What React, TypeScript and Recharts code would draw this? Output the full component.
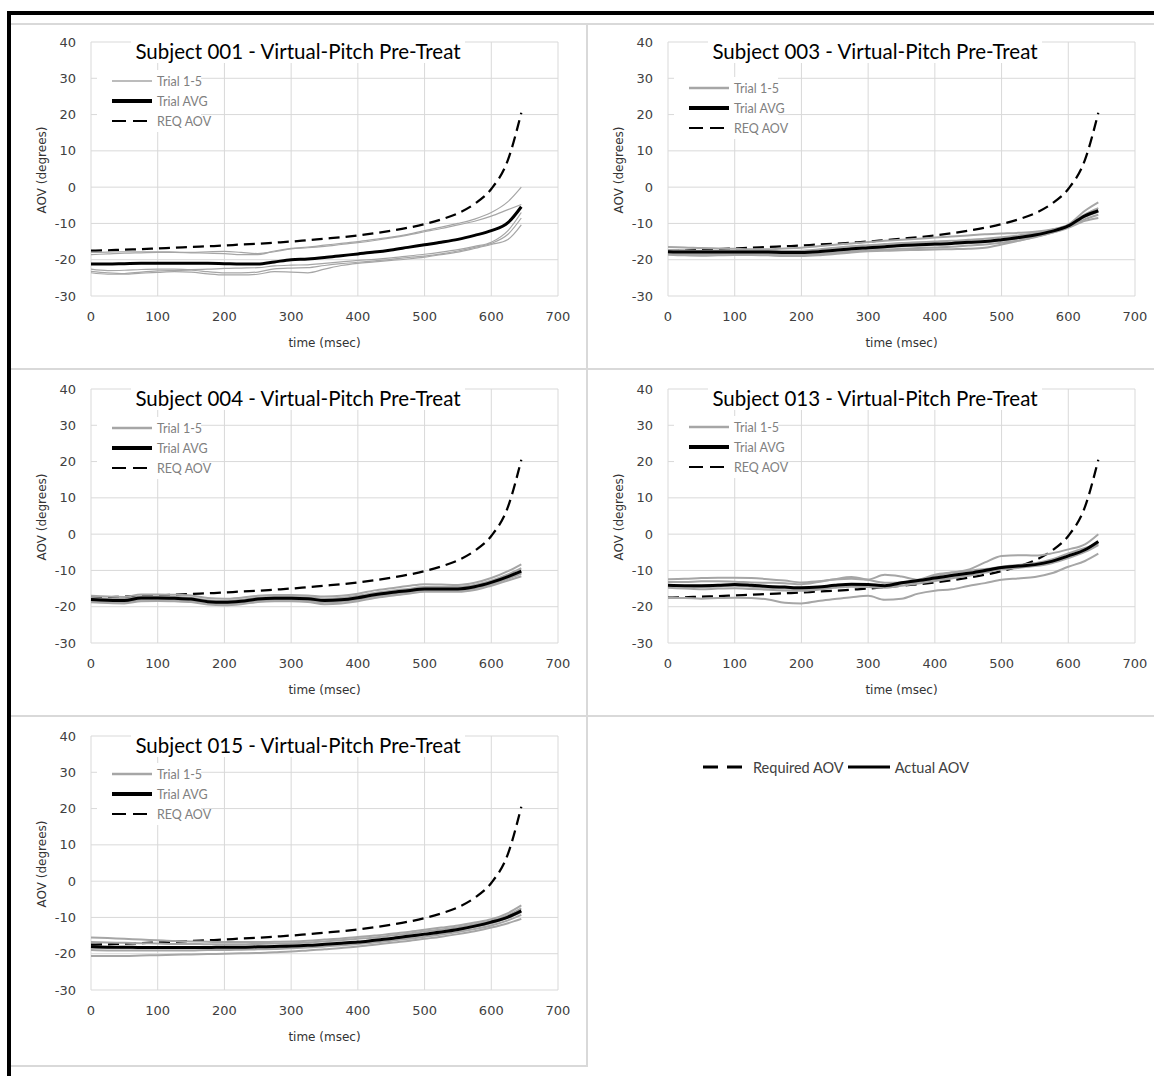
import { CartesianGrid, Line, LineChart, XAxis, YAxis } from 'recharts';

// sample times (msec)
const TIME = [0, 25, 50, 75, 100, 125, 150, 175, 200, 225, 250, 275, 300, 325, 350, 375, 400, 425, 450, 475, 500, 525, 550, 575, 600, 625, 645];

// required AOV, same curve in every panel
const REQ_AOV = [-17.5, -17.4, -17.2, -17.1, -16.9, -16.7, -16.5, -16.3, -16.1, -15.8, -15.6, -15.3, -15.0, -14.6, -14.2, -13.8, -13.3, -12.7, -12.0, -11.2, -10.2, -8.9, -7.2, -4.6, -0.5, 7.5, 20.5];

// Subject 001
const S001_AVG = [-21.2, -21.2, -21.1, -21.0, -21.0, -21.0, -21.0, -21.0, -21.1, -21.2, -21.2, -20.6, -20.0, -19.8, -19.4, -18.9, -18.4, -17.9, -17.3, -16.6, -15.9, -15.2, -14.4, -13.3, -12.0, -9.8, -5.4];
const S001_T1 = [-18.6, -18.4, -18.2, -18.1, -18.0, -18.0, -18.1, -18.2, -18.3, -18.6, -18.6, -17.6, -16.9, -16.5, -16.0, -15.5, -15.0, -14.4, -13.8, -13.0, -12.0, -11.0, -10.0, -8.8, -7.0, -4.0, 0.0];
const S001_T2 = [-18.0, -17.9, -17.8, -17.8, -17.8, -17.9, -18.0, -17.8, -17.7, -18.0, -18.3, -17.8, -17.0, -16.7, -16.3, -15.8, -15.3, -14.7, -14.0, -13.2, -12.3, -11.4, -10.4, -9.4, -8.0, -6.2, -4.8];
const S001_T3 = [-22.6, -23.0, -22.9, -22.7, -22.6, -22.6, -22.7, -22.6, -22.4, -22.3, -22.2, -21.7, -21.5, -21.4, -21.0, -20.6, -20.2, -19.9, -19.5, -19.0, -18.5, -17.9, -17.2, -16.3, -15.2, -12.0, -7.0];
const S001_T4 = [-23.2, -23.6, -23.8, -23.4, -23.1, -23.0, -22.9, -23.3, -23.6, -23.6, -23.4, -22.5, -22.3, -22.2, -21.6, -21.1, -20.7, -20.3, -19.9, -19.4, -19.0, -18.4, -17.6, -16.6, -15.5, -13.0, -8.5];
const S001_T5 = [-23.6, -24.0, -24.0, -23.7, -23.5, -23.3, -23.4, -23.9, -24.2, -24.2, -24.0, -23.3, -23.4, -23.6, -22.6, -21.6, -21.0, -20.6, -20.2, -19.8, -19.3, -18.6, -17.9, -16.9, -15.8, -14.4, -10.4];

// Subject 003
const S003_AVG = [-17.8, -17.9, -17.9, -17.9, -17.9, -17.9, -17.9, -18.0, -18.0, -17.8, -17.4, -17.0, -16.7, -16.4, -16.1, -15.9, -15.7, -15.5, -15.2, -15.0, -14.5, -13.9, -13.2, -12.2, -10.7, -7.9, -6.5];
const S003_T1 = [-16.5, -16.6, -16.8, -16.9, -17.0, -17.1, -17.1, -16.9, -16.7, -16.3, -15.9, -15.5, -15.1, -14.8, -14.5, -14.2, -13.9, -13.6, -13.3, -13.0, -12.8, -12.6, -12.3, -11.7, -10.3, -6.5, -4.2];
const S003_T2 = [-17.3, -17.4, -17.5, -17.5, -17.5, -17.6, -17.6, -17.6, -17.5, -17.2, -16.7, -16.3, -16.0, -15.7, -15.4, -15.2, -15.0, -14.8, -14.5, -14.2, -13.8, -13.3, -12.7, -11.8, -10.5, -7.5, -5.8];
const S003_T3 = [-18.0, -18.1, -18.1, -18.0, -18.0, -18.0, -18.1, -18.2, -18.2, -18.0, -17.6, -17.2, -16.9, -16.6, -16.3, -16.1, -15.9, -15.7, -15.4, -15.1, -14.7, -14.1, -13.3, -12.2, -10.8, -8.2, -6.8];
const S003_T4 = [-18.4, -18.5, -18.5, -18.4, -18.3, -18.3, -18.4, -18.6, -18.7, -18.5, -18.1, -17.7, -17.4, -17.2, -17.0, -16.8, -16.6, -16.4, -16.1, -15.8, -15.3, -14.7, -13.8, -12.6, -11.0, -8.8, -7.6];
const S003_T5 = [-18.6, -18.8, -18.9, -18.8, -18.7, -18.7, -18.8, -19.0, -19.0, -18.8, -18.4, -18.0, -17.7, -17.5, -17.4, -17.3, -17.2, -17.1, -17.0, -16.7, -15.8, -14.8, -13.7, -12.6, -11.2, -9.3, -8.5];

// Subject 004
const S004_AVG = [-18.0, -18.2, -18.3, -17.6, -17.6, -17.7, -17.9, -18.6, -18.8, -18.5, -17.9, -17.7, -17.7, -17.8, -18.3, -18.1, -17.5, -16.7, -16.1, -15.6, -15.1, -15.1, -15.1, -14.5, -13.3, -11.7, -10.2];
const S004_T1 = [-17.0, -17.2, -17.3, -16.6, -16.6, -16.7, -16.9, -17.6, -17.8, -17.5, -17.0, -16.8, -16.8, -16.9, -17.2, -17.0, -16.4, -15.5, -14.9, -14.3, -13.8, -13.9, -14.0, -13.4, -12.1, -10.2, -8.3];
const S004_T2 = [-17.6, -17.8, -17.9, -17.2, -17.2, -17.3, -17.5, -18.2, -18.4, -18.1, -17.5, -17.3, -17.3, -17.4, -17.8, -17.6, -17.0, -16.2, -15.6, -15.1, -14.6, -14.6, -14.6, -14.0, -12.8, -11.1, -9.4];
const S004_T3 = [-18.5, -18.6, -18.7, -18.1, -18.0, -18.1, -18.3, -19.0, -19.2, -18.9, -18.3, -18.1, -18.1, -18.3, -18.8, -18.6, -18.0, -17.2, -16.6, -16.0, -15.5, -15.5, -15.5, -15.0, -13.8, -12.3, -10.9];
const S004_T4 = [-18.8, -19.0, -19.1, -18.5, -18.4, -18.5, -18.7, -19.4, -19.6, -19.3, -18.7, -18.5, -18.5, -18.7, -19.3, -19.1, -18.5, -17.6, -17.0, -16.4, -15.9, -15.9, -15.9, -15.4, -14.2, -12.8, -11.6];
const S004_T5 = [-18.3, -18.4, -18.6, -17.9, -17.8, -17.9, -18.1, -18.8, -19.1, -18.7, -18.1, -17.9, -17.9, -18.0, -18.6, -18.3, -17.7, -16.9, -16.3, -15.8, -15.3, -15.3, -15.3, -14.7, -13.5, -12.0, -10.6];

// Subject 013
const S013_AVG = [-14.1, -14.2, -14.2, -14.1, -13.9, -14.1, -14.4, -14.6, -14.8, -14.6, -14.1, -13.8, -13.9, -14.2, -13.4, -12.8, -12.1, -11.4, -10.8, -10.0, -9.2, -8.8, -8.4, -7.5, -6.0, -4.3, -2.0];
const S013_T1 = [-12.4, -12.3, -12.1, -12.0, -12.0, -12.1, -12.4, -12.8, -13.3, -13.0, -12.5, -12.3, -12.5, -11.2, -11.7, -12.6, -11.6, -10.6, -9.8, -7.8, -6.0, -5.8, -5.9, -5.3, -4.2, -2.8, 0.0];
const S013_T2 = [-13.2, -13.2, -13.0, -13.0, -13.1, -13.3, -13.4, -13.5, -13.8, -13.2, -12.4, -11.8, -12.6, -13.4, -13.3, -12.6, -11.2, -10.6, -10.1, -9.6, -9.0, -8.5, -8.0, -7.0, -5.3, -3.8, -2.8];
const S013_T3 = [-14.2, -14.4, -14.6, -14.4, -14.2, -14.5, -14.8, -15.0, -15.2, -14.9, -14.4, -14.0, -14.1, -14.3, -13.7, -13.2, -12.5, -11.9, -11.2, -10.3, -9.4, -9.0, -8.6, -7.7, -6.3, -4.5, -2.4];
const S013_T4 = [-14.8, -15.0, -15.2, -15.0, -14.9, -15.1, -15.3, -15.5, -15.6, -15.3, -14.8, -14.5, -14.6, -14.8, -14.2, -13.6, -12.9, -12.2, -11.5, -10.6, -9.7, -9.3, -8.8, -8.0, -6.6, -4.9, -3.0];
const S013_T5 = [-17.6, -17.6, -17.8, -17.6, -17.5, -17.6, -18.0, -18.9, -19.1, -18.4, -17.9, -17.4, -17.0, -18.1, -17.8, -16.4, -15.6, -15.2, -14.3, -13.5, -12.6, -12.2, -11.8, -10.8, -9.0, -7.4, -5.4];

// Subject 015
const S015_AVG = [-18.1, -18.2, -18.2, -18.3, -18.3, -18.3, -18.3, -18.3, -18.2, -18.2, -18.1, -18.0, -17.9, -17.7, -17.4, -17.1, -16.8, -16.3, -15.8, -15.2, -14.6, -14.0, -13.3, -12.4, -11.3, -9.9, -8.2];
const S015_T1 = [-15.5, -15.7, -15.9, -16.1, -16.3, -16.5, -16.6, -16.7, -16.8, -16.8, -16.8, -16.7, -16.6, -16.4, -16.1, -15.8, -15.4, -15.0, -14.5, -14.0, -13.4, -12.8, -12.2, -11.4, -10.5, -8.8, -6.7];
const S015_T2 = [-16.8, -16.9, -17.0, -17.1, -17.2, -17.3, -17.3, -17.4, -17.4, -17.4, -17.3, -17.2, -17.1, -16.9, -16.6, -16.3, -15.9, -15.5, -15.0, -14.5, -13.9, -13.3, -12.7, -11.9, -11.0, -9.4, -7.5];
const S015_T3 = [-19.0, -19.1, -19.1, -19.1, -19.1, -19.1, -19.1, -19.0, -19.0, -18.9, -18.8, -18.7, -18.5, -18.3, -18.0, -17.7, -17.3, -16.9, -16.4, -15.9, -15.3, -14.7, -14.0, -13.2, -12.2, -10.8, -9.3];
const S015_T4 = [-20.6, -20.6, -20.6, -20.5, -20.4, -20.3, -20.2, -20.1, -20.0, -19.9, -19.8, -19.6, -19.4, -19.1, -18.8, -18.4, -18.0, -17.5, -17.0, -16.5, -15.9, -15.3, -14.6, -13.8, -12.8, -11.6, -10.4];
const S015_T5 = [-18.2, -18.3, -18.4, -18.5, -18.5, -18.5, -18.5, -18.5, -18.5, -18.4, -18.3, -18.2, -18.0, -17.8, -17.5, -17.2, -16.8, -16.4, -15.9, -15.4, -14.8, -14.2, -13.5, -12.6, -11.6, -10.1, -8.5];

const X_TICKS = [0, 100, 200, 300, 400, 500, 600, 700];
const Y_TICKS = [-30, -20, -10, 0, 10, 20, 30, 40];

const GRID = '#d9d9d9';
const TRIAL_GREY = '#a6a6a6';
const DASH = '11 6';

const PANELS = [
  { title: 'Subject 001 - Virtual-Pitch Pre-Treat', left: 12, top: 24, avg: S001_AVG, trials: [S001_T1, S001_T2, S001_T3, S001_T4, S001_T5], trialWidth: 1.2, legendTop: 46 },
  { title: 'Subject 003 - Virtual-Pitch Pre-Treat', left: 589, top: 24, avg: S003_AVG, trials: [S003_T1, S003_T2, S003_T3, S003_T4, S003_T5], trialWidth: 2, legendTop: 53 },
  { title: 'Subject 004 - Virtual-Pitch Pre-Treat', left: 12, top: 371, avg: S004_AVG, trials: [S004_T1, S004_T2, S004_T3, S004_T4, S004_T5], trialWidth: 2, legendTop: 46 },
  { title: 'Subject 013 - Virtual-Pitch Pre-Treat', left: 589, top: 371, avg: S013_AVG, trials: [S013_T1, S013_T2, S013_T3, S013_T4, S013_T5], trialWidth: 2, legendTop: 45 },
  { title: 'Subject 015 - Virtual-Pitch Pre-Treat', left: 12, top: 718, avg: S015_AVG, trials: [S015_T1, S015_T2, S015_T3, S015_T4, S015_T5], trialWidth: 2, legendTop: 45 },
];

const InnerLegend = ({ trialWidth, top }: { trialWidth: number; top: number }) => (
  <div style={{ position: 'absolute', left: 85, top, background: '#fff', width: 104, height: 62, fontFamily: 'Lato', fontSize: 12.5, color: '#808080' }}>
    {[
      { label: 'Trial 1-5', stroke: TRIAL_GREY, w: trialWidth + 0.5, dash: undefined },
      { label: 'Trial AVG', stroke: '#000', w: 4, dash: undefined },
      { label: 'REQ AOV', stroke: '#000', w: 2, dash: '14 7' },
    ].map((it, i) => (
      <div key={it.label} style={{ position: 'absolute', left: 0, top: 1 + i * 20, height: 20, display: 'flex', alignItems: 'center' }}>
        <svg width={60} height={20} style={{ display: 'block' }}>
          <line x1={15} x2={55} y1={10} y2={10} stroke={it.stroke} strokeWidth={it.w} strokeDasharray={it.dash} />
        </svg>
        <span style={{ whiteSpace: 'nowrap' }}>{it.label}</span>
      </div>
    ))}
  </div>
);

type PanelProps = (typeof PANELS)[number];

const Panel = ({ title, left, top, avg, trials, trialWidth, legendTop }: PanelProps) => {
  const data = TIME.map((t, i) => {
    const row: Record<string, number> = { t, req: REQ_AOV[i], avg: avg[i] };
    trials.forEach((tr, k) => {
      row['trial' + k] = tr[i];
    });
    return row;
  });
  return (
    <div style={{ position: 'absolute', left, top, width: 575, height: 345, overflow: 'hidden' }}>
      <LineChart width={575} height={345} data={data} margin={{ top: 18, right: 29, bottom: 0, left: 0 }}>
        <CartesianGrid stroke={GRID} />
        <XAxis
          dataKey="t"
          type="number"
          domain={[0, 700]}
          ticks={X_TICKS}
          axisLine={false}
          tickLine={false}
          tickSize={0}
          tickMargin={16}
          height={73}
          tick={{ fontFamily: 'DejaVu Sans', fontSize: 13, fill: '#404040' }}
          label={{ value: 'time (msec)', position: 'insideBottom', offset: 22, style: { fontFamily: 'DejaVu Sans', fontSize: 12, fill: '#333' } }}
        />
        <YAxis
          type="number"
          domain={[-30, 40]}
          ticks={Y_TICKS}
          width={79}
          axisLine={false}
          tickLine={false}
          tickSize={0}
          tickMargin={15}
          tick={{ fontFamily: 'DejaVu Sans', fontSize: 13, fill: '#404040' }}
        />
        <Line dataKey="req" type="monotone" stroke="#000" strokeWidth={2.25} strokeDasharray={DASH} dot={false} activeDot={false} isAnimationActive={false} />
        {trials.map((_, k) => (
          <Line key={k} dataKey={'trial' + k} type="monotone" stroke={TRIAL_GREY} strokeWidth={trialWidth} dot={false} activeDot={false} isAnimationActive={false} />
        ))}
        <Line dataKey="avg" type="monotone" stroke="#000" strokeWidth={3} dot={false} activeDot={false} isAnimationActive={false} />
      </LineChart>
      <InnerLegend trialWidth={trialWidth} top={legendTop} />
      <div style={{ position: 'absolute', left: 0, top: 15, width: 572, textAlign: 'center', pointerEvents: 'none' }}>
        <span style={{ background: '#fff', padding: '0 4px', fontFamily: 'Lato', fontSize: 20.5, lineHeight: '24px', color: '#000' }}>{title}</span>
      </div>
      <div
        style={{
          position: 'absolute',
          left: 30,
          top: 146,
          transform: 'translate(-50%, -50%) rotate(-90deg)',
          whiteSpace: 'nowrap',
          fontFamily: 'DejaVu Sans',
          fontSize: 12,
          color: '#333',
        }}
      >
        AOV (degrees)
      </div>
    </div>
  );
};

const hLine = (left: number, top: number, width: number) => (
  <div style={{ position: 'absolute', left, top, width, height: 2, background: GRID }} />
);

export default function App() {
  return (
    <div style={{ position: 'absolute', left: 0, top: 0, width: 1154, height: 1076, overflow: 'hidden', background: '#fff' }}>
      {/* panel separators */}
      {hLine(11, 23, 1143)}
      {hLine(11, 368, 1143)}
      {hLine(11, 715, 1143)}
      {hLine(11, 1065, 576)}
      <div style={{ position: 'absolute', left: 586, top: 23, width: 2, height: 1044, background: GRID }} />

      {PANELS.map((p) => (
        <Panel key={p.title} {...p} />
      ))}

      {/* shared legend */}
      <div style={{ position: 'absolute', left: 700, top: 757, display: 'flex', alignItems: 'center', fontFamily: 'Lato', fontSize: 14.5, color: '#404040' }}>
        <svg width={48} height={20} style={{ display: 'block' }}>
          <line x1={3} x2={44} y1={10} y2={10} stroke="#000" strokeWidth={3} strokeDasharray="15 9" />
        </svg>
        <span style={{ marginLeft: 5 }}>Required AOV</span>
        <svg width={48} height={20} style={{ display: 'block' }}>
          <line x1={4} x2={46} y1={10} y2={10} stroke="#000" strokeWidth={3} />
        </svg>
        <span style={{ marginLeft: 3 }}>Actual AOV</span>
      </div>

      {/* black frame */}
      <div style={{ position: 'absolute', left: 7, top: 11, width: 1147, height: 4, background: '#000' }} />
      <div style={{ position: 'absolute', left: 7, top: 11, width: 4, height: 1065, background: '#000' }} />
    </div>
  );
}
